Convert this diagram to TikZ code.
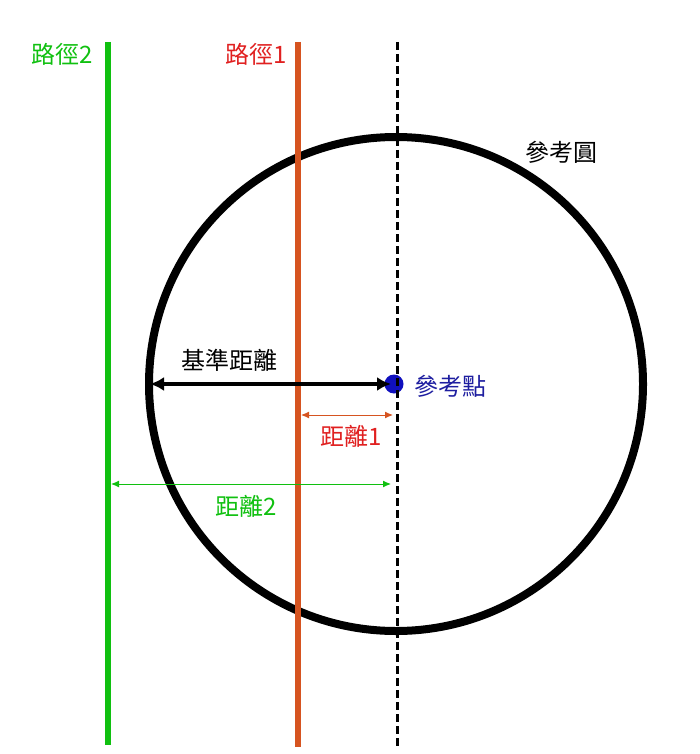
\documentclass[tikz,border=0pt]{standalone}
\usepackage{fontspec}
\setmainfont{Noto Sans CJK TC}
\usetikzlibrary{arrows.meta}

\definecolor{pathgreen}{RGB}{16,192,16}
\definecolor{pathorange}{RGB}{214,84,32}
\definecolor{labelred}{RGB}{224,32,32}
\definecolor{pointblue}{RGB}{16,16,190}
\definecolor{labelblue}{RGB}{30,30,160}

\tikzset{
    lbl/.style={font=\fontsize{24}{24}\selectfont, inner sep=0pt},
    dist/.style={{Latex[length=8pt,width=7pt]}-{Latex[length=8pt,width=7pt]}, line width=1pt}
}

\begin{document}
\begin{tikzpicture}[x=1pt, y=-1pt]
        \useasboundingbox (0,0) rectangle (699,754);

        % Reference circle
        \draw[line width=8pt] (396,384) circle (247);
        \node[lbl] (circlelbl) at (561,152) {參考圓};

        % Paths
        \coordinate (p2top) at (108,42);
        \coordinate (p2bot) at (108,745);
        \coordinate (p1top) at (298,42);
        \coordinate (p1bot) at (298,747);
        \coordinate (reftop) at (397,42);
        \coordinate (refbot) at (397,746);
        \draw[pathgreen, line width=6pt] (p2top) -- (p2bot);
        \draw[pathorange, line width=6pt] (p1top) -- (p1bot);

        % Label for paths
        \node[lbl, text=pathgreen] (p2lbl) at (62,54) {路徑2};
        \node[lbl, text=labelred] (p1lbl) at (256,54) {路徑1};

        % Reference point
        \node[circle, fill=pointblue, minimum size=19pt, inner sep=0pt] (refpt) at (394,384) {};
        \node[lbl, text=labelblue] (reflbl) at (450,386) {參考點};
        \draw[line width=3pt, dash pattern=on 8pt off 4pt] (reftop) -- (refbot);

        % Base distance
        \coordinate (baseL) at (150,384);
        \coordinate (baseR) at (391,384);
        \draw[line width=4pt, {Latex[length=14pt,width=14pt]}-{Latex[length=14pt,width=14pt]}] (baseL) -- (baseR);
        \node[lbl] (baselbl) at (229,360) {基準距離};

        % Distance 1
        \coordinate (d1L) at (301,415);
        \coordinate (d1R) at (393,415);
        \draw[dist, pathorange] (d1L) -- (d1R);
        \node[lbl, text=labelred] (d1lbl) at (351,436) {距離1};

        % Distance 2
        \coordinate (d2L) at (111,484);
        \coordinate (d2R) at (391,484);
        \draw[dist, pathgreen] (d2L) -- (d2R);
        \node[lbl, text=pathgreen] (d2lbl) at (246,506) {距離2};

    \end{tikzpicture}
\end{document}
